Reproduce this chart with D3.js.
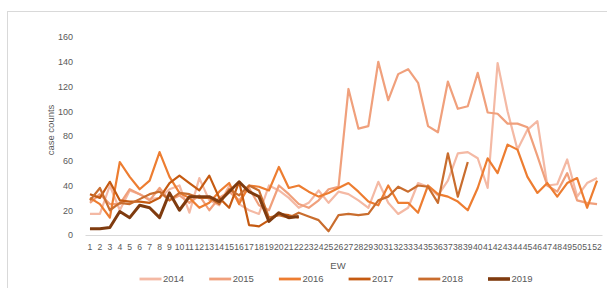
<!DOCTYPE html>
<html>
<head>
<meta charset="utf-8">
<script src="https://cdn.jsdelivr.net/npm/d3@7"></script>
<style>
  body { margin: 0; background: #fff; }
  text { font-family: "Liberation Sans", Arial, sans-serif; fill: #595959; }
</style>
</head>
<body>
<div id="chart"></div>
<script>
// weeks and years
var weeks = d3.range(1, 53);
var years = ["2014", "2015", "2016", "2017", "2018", "2019"];
var yTicks = [0, 20, 40, 60, 80, 100, 120, 140, 160];

// case counts per EW (partial years stop early)
var v2014 = [17, 17, 40, 20, 36, 33, 29, 30, 37, 40, 18, 46, 28, 24, 40, 25, 20, 17, 40, 36,
             30, 22, 26, 36, 26, 35, 33, 28, 22, 43, 26, 17, 22, 42, 39, 32, 44, 66, 67, 62,
             38, 139, 100, 69, 85, 92, 40, 41, 61, 31, 42, 46];
var v2015 = [26, 33, 25, 25, 37, 33, 28, 38, 28, 32, 26, 32, 20, 30, 35, 28, 38, 24, 20, 40,
             33, 25, 22, 28, 37, 39, 118, 86, 88, 140, 109, 130, 134, 123, 88, 83, 124, 102, 104, 131,
             99, 98, 90, 90, 87, 64, 40, 35, 50, 28, 26, 25];
var v2016 = [30, 25, 14, 59, 47, 37, 44, 67, 47, 34, 30, 22, 26, 35, 42, 25, 40, 39, 36, 55,
             38, 40, 35, 31, 34, 38, 42, 35, 27, 24, 40, 26, 26, 18, 40, 33, 31, 27, 20, 38,
             62, 50, 73, 69, 47, 34, 42, 31, 42, 46, 22, 44];
var v2017 = [33, 30, 43, 28, 27, 27, 26, 30, 42, 48, 42, 36, 48, 30, 22, 43, 8, 7, 12, 17, 16, 14];
var v2018 = [28, 38, 20, 26, 25, 29, 33, 35, 28, 34, 33, 30, 30, 25, 37, 32, 40, 36, 14, 16,
             14, 18, 15, 12, 3, 16, 17, 16, 17, 28, 31, 39, 35, 40, 39, 26, 66, 31, 59];
var v2019 = [5, 5, 6, 19, 14, 24, 22, 14, 34, 20, 31, 31, 31, 27, 35, 43, 35, 31, 11, 18,
             14, 15];

var seriesVals = [v2014, v2015, v2016, v2017, v2018, v2019];
var colors = ["#f4b9a4", "#f0a07c", "#ed7d31", "#c55a11", "#c96d2e", "#7f3b0f"],
    widths = [2.2, 2.2, 2.2, 2.2, 2.2, 3];

var W = 607, H = 288;
var margin = { top: 37, right: 5, bottom: 53, left: 85 };

var svg = d3.select("#chart").append("svg")
    .attr("width", W)
    .attr("height", H);

// outer frame of the chart object
svg.append("rect")
    .attr("x", 7.5).attr("y", 11.5)
    .attr("width", W + 20).attr("height", H + 20)
    .attr("fill", "#fff")
    .attr("stroke", "#d9d9d9");

var x = d3.scaleBand()
    .domain(weeks)
    .range([margin.left, W - margin.right]);

var y = d3.scaleLinear()
    .domain([0, 160])
    .range([H - margin.bottom, margin.top]);

function cx(w) { return x(w) + x.bandwidth() / 2; }

// y axis (labels only)
var yAxis = svg.append("g")
    .attr("transform", "translate(" + margin.left + ",0)")
    .call(d3.axisLeft(y).tickValues(yTicks).tickSize(0).tickPadding(12));
yAxis.select(".domain").remove();
yAxis.selectAll("text").style("font-size", "9px").attr("fill", "#666");

// x axis
var xAxis = svg.append("g")
    .attr("transform", "translate(0," + y(0) + ")")
    .call(d3.axisBottom(x).tickSize(0).tickPadding(9));
xAxis.select(".domain").attr("stroke", "#d9d9d9");
xAxis.selectAll("text").style("font-size", "8.6px").attr("fill", "#666");

// axis titles
svg.append("text")
    .attr("transform", "translate(54,130) rotate(-90)")
    .attr("text-anchor", "middle")
    .style("font-size", "9.5px")
    .text("case counts");

svg.append("text")
    .attr("x", 338).attr("y", 269)
    .attr("text-anchor", "middle")
    .style("font-size", "9.5px")
    .text("EW");

// lines
var line = d3.line()
    .x(function(d, i) { return cx(weeks[i]); })
    .y(function(d) { return y(d); });

years.forEach(function(yr, k) {
    svg.append("path")
        .datum(seriesVals[k])
        .attr("fill", "none")
        .attr("stroke", colors[k])
        .attr("stroke-width", widths[k])
        .attr("stroke-linejoin", "round")
        .attr("d", line);
});

// legend
var leg = svg.append("g").selectAll("g")
    .data(years)
  .enter().append("g")
    .attr("transform", function(d, i) { return "translate(" + (139.5 + i * 69.7) + ",279)"; });

leg.append("line")
    .attr("x1", 0).attr("x2", 22)
    .attr("stroke", function(d, i) { return colors[i]; })
    .attr("stroke-width", function(d, i) { return widths[i] + 0.6; });

leg.append("text")
    .attr("x", 23.5).attr("dy", "0.35em")
    .style("font-size", "9.5px")
    .text(function(d) { return d; });
</script>
</body>
</html>
